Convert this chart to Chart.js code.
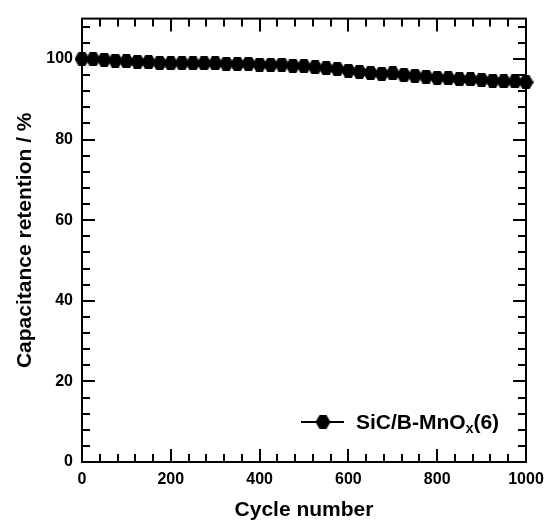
<!DOCTYPE html>
<html>
<head>
<meta charset="utf-8">
<script src="https://cdn.jsdelivr.net/npm/chart.js@4.4.1/dist/chart.umd.min.js"></script>
<style>
  html, body { margin: 0; padding: 0; background: #fff; }
  #wrap { width: 547px; height: 523px; }
</style>
</head>
<body>
<div id="wrap"><canvas id="retChart" width="547" height="523"></canvas></div>
<script>
// ---- data ----
const cycles = [0, 25, 50, 75, 100, 125, 150, 175, 200, 225, 250, 275, 300, 325, 350, 375,
    400, 425, 450, 475, 500, 525, 550, 575, 600, 625, 650, 675, 700, 725, 750, 775,
    800, 825, 850, 875, 900, 925, 950, 975, 1000];
const retention = [100, 99.9, 99.8, 99.6, 99.4, 99.3, 99.2, 99.0, 98.9, 99.0, 98.9, 98.9, 98.9, 98.8, 98.7, 98.8,
    98.6, 98.5, 98.6, 98.3, 98.2, 97.9, 97.7, 97.5, 97.1, 96.8, 96.5, 96.3, 96.4, 96.0, 95.8, 95.6,
    95.3, 95.2, 95.0, 94.9, 94.8, 94.6, 94.4, 94.4, 94.2];
const xTicks = [0, 200, 400, 600, 800, 1000];
const yTicks = [0, 20, 40, 60, 80, 100];
const xMinorStep = 40;
const yMinorStep = 4;

const FONT = "'Liberation Sans', Arial, sans-serif";

// hexagon marker (pointy left/right)
function hexMarker(w, h) {
    const c = document.createElement("canvas");
    c.width = w; c.height = h;
    const g = c.getContext("2d");
    g.fillStyle = "#000";
    g.beginPath();
    g.moveTo(0, h / 2);
    g.lineTo(w * 0.27, 0);
    g.lineTo(w * 0.73, 0);
    g.lineTo(w, h / 2);
    g.lineTo(w * 0.73, h);
    g.lineTo(w * 0.27, h);
    g.closePath();
    g.fill();
    return c;
}
const hex = hexMarker(15, 14);

// frame + inward ticks on all four sides, and the legend
const frameTicks = {
    id: "frameTicks",
    afterDraw(chart) {
        const { ctx, chartArea: a, scales } = chart;
        const xs = scales.x, ys = scales.y;
        ctx.save();
        ctx.strokeStyle = "#000";
        ctx.lineWidth = 2;
        ctx.strokeRect(a.left, a.top, a.right - a.left, a.bottom - a.top);
        ctx.beginPath();
        for (let v = xs.min; v <= xs.max; v += xMinorStep) {
            const len = xTicks.includes(v) ? 13 : 8;
            const px = Math.round(xs.getPixelForValue(v));
            ctx.moveTo(px, a.bottom); ctx.lineTo(px, a.bottom - len);
            ctx.moveTo(px, a.top); ctx.lineTo(px, a.top + len);
        }
        for (let v = ys.min; v <= ys.max; v += yMinorStep) {
            const len = yTicks.includes(v) ? 13 : 8;
            const py = Math.round(ys.getPixelForValue(v));
            ctx.moveTo(a.left, py); ctx.lineTo(a.left + len, py);
            ctx.moveTo(a.right, py); ctx.lineTo(a.right - len, py);
        }
        ctx.stroke();

        // legend
        const ly = 422, lx = 301;
        ctx.beginPath();
        ctx.moveTo(lx, ly); ctx.lineTo(lx + 43, ly);
        ctx.stroke();
        ctx.drawImage(hex, lx + 22 - 7.5, ly - 7);
        ctx.fillStyle = "#000";
        ctx.textBaseline = "alphabetic";
        ctx.textAlign = "left";
        ctx.font = "bold 21px " + FONT;
        let tx = 356;
        const base = ly + 7;
        ctx.fillText("SiC/B-MnO", tx, base);
        tx += ctx.measureText("SiC/B-MnO").width;
        ctx.font = "bold 14px " + FONT;
        ctx.fillText("x", tx, base + 4);
        tx += ctx.measureText("x").width;
        ctx.font = "bold 21px " + FONT;
        ctx.fillText("(6)", tx, base);
        ctx.restore();
    }
};

new Chart(document.getElementById("retChart"), {
    type: "line",
    data: {
        datasets: [{
            label: "SiC/B-MnOx(6)",
            data: cycles.map((c, i) => ({ x: c, y: retention[i] })),
            borderColor: "#000",
            backgroundColor: "#000",
            borderWidth: 2,
            pointStyle: hex,
            tension: 0,
            clip: false
        }]
    },
    options: {
        responsive: false,
        animation: false,
        layout: { padding: { top: 16, right: 21, left: 0, bottom: 0 } },
        plugins: {
            legend: { display: false },
            tooltip: { enabled: false }
        },
        scales: {
            x: {
                type: "linear",
                min: 0,
                max: 1000,
                afterBuildTicks: s => { s.ticks = xTicks.map(v => ({ value: v })); },
                afterFit: s => { s.height = 61; s.paddingLeft = 0; s.paddingRight = 0; },
                grid: { display: false, drawTicks: false },
                border: { display: false },
                ticks: {
                    color: "#000",
                    padding: 8,
                    maxRotation: 0,
                    callback: v => String(v),
                    font: { family: FONT, size: 16, weight: "bold" }
                },
                title: {
                    display: true,
                    text: "Cycle number",
                    color: "#000",
                    padding: { top: 5, bottom: 0 },
                    font: { family: FONT, size: 21, weight: "bold" }
                }
            },
            y: {
                min: 0,
                max: 110,
                afterBuildTicks: s => { s.ticks = yTicks.map(v => ({ value: v })); },
                afterFit: s => { s.width = 82; },
                grid: { display: false, drawTicks: false },
                border: { display: false },
                ticks: {
                    color: "#000",
                    padding: 9,
                    font: { family: FONT, size: 16, weight: "bold" }
                },
                title: {
                    display: true,
                    text: "Capacitance retention / %",
                    color: "#000",
                    padding: { top: 13, bottom: 0 },
                    font: { family: FONT, size: 21, weight: "bold" }
                }
            }
        }
    },
    plugins: [frameTicks]
});
</script>
</body>
</html>
